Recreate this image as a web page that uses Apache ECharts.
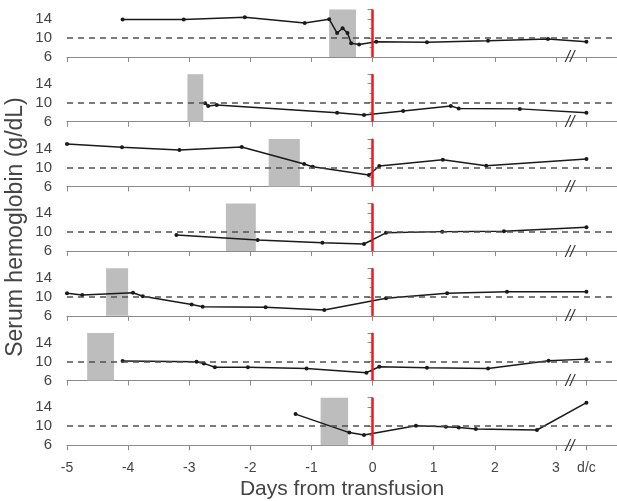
<!DOCTYPE html>
<html>
<head>
<meta charset="utf-8">
<script src="https://cdn.jsdelivr.net/npm/echarts@6/dist/echarts.min.js"></script>
<style>
  html, body { margin: 0; padding: 0; background: #fff; }
  #chart { width: 617px; height: 501px; }
</style>
</head>
<body>
<div id="chart"></div>
<script>
// days from transfusion, d/c drawn at 3.5
const xTicks = [-5, -4, -3, -2, -1, 0, 1, 2, 3, 3.5]
const xTickLabels = ['-5', '-4', '-3', '-2', '-1', '0', '1', '2', '3', 'd/c']
const yTicks = [6, 10, 14]
const refLevel = 10
const transfusionDay = 0
const breakAt = 3.23

// one array per patient: [day, hemoglobin g/dL]
const patient1 = [[-4.09, 13.9], [-3.09, 13.9], [-2.09, 14.35], [-1.11, 13.15], [-0.71, 13.95], [-0.58, 11.05], [-0.49, 12.05], [-0.41, 11.05], [-0.35, 8.9], [-0.22, 8.65], [0.06, 9.2], [0.89, 9.1], [1.89, 9.4], [2.87, 9.8], [3.5, 9.2]]
const patient2 = [[-2.74, 9.9], [-2.69, 9.3], [-2.55, 9.5], [-0.58, 7.9], [-0.14, 7.4], [0.5, 8.25], [1.28, 9.3], [1.41, 8.8], [2.41, 8.7], [3.5, 7.9]]
const patient3 = [[-5, 14.95], [-4.1, 14.25], [-3.16, 13.65], [-2.14, 14.3], [-1.12, 10.7], [-0.98, 10.15], [-0.06, 8.4], [0.11, 10.3], [1.15, 11.6], [1.86, 10.35], [3.5, 11.75]]
const patient4 = [[-3.21, 9.4], [-1.88, 8.35], [-0.82, 7.75], [-0.14, 7.5], [0.22, 9.85], [1.14, 10.1], [2.15, 10.2], [3.5, 11.0]]
const patient5 = [[-5, 10.75], [-4.75, 10.4], [-3.92, 10.85], [-3.76, 10.1], [-2.96, 8.4], [-2.78, 7.9], [-1.75, 7.8], [-0.79, 7.2], [0.22, 9.7], [1.22, 10.75], [2.2, 11.05], [3.5, 11.05]]
const patient6 = [[-4.09, 10.1], [-2.88, 9.95], [-2.76, 9.6], [-2.58, 8.8], [-2.04, 8.8], [-1.08, 8.55], [-0.1, 7.65], [0.11, 8.9], [0.89, 8.7], [1.89, 8.55], [2.88, 10.15], [3.5, 10.5]]
const patient7 = [[-1.26, 12.55], [-0.38, 8.65], [-0.14, 8.15], [0.71, 10.1], [1.2, 9.9], [1.41, 9.75], [1.69, 9.4], [2.69, 9.2], [3.5, 14.95]]

// grey bars (start, end day)
const shadeRanges = [[-0.71, -0.27], [-3.03, -2.77], [-1.7, -1.19], [-2.4, -1.91], [-4.36, -4.0], [-4.67, -4.23], [-0.85, -0.4]]

const patients = [patient1, patient2, patient3, patient4, patient5, patient6, patient7]

const chart = echarts.init(document.getElementById('chart'))
const font = 'Liberation Sans, Arial, sans-serif'
const axisGrey = '#8a8a8a'

const grids = []
const xAxes = []
const yAxes = []
const series = []

function panelRect(i) {
  return {
    left: 67,
    width: 550,
    top: 9.5 + 64.7 * i,
    height: 47.5,
    containLabel: false,
    outerBoundsMode: 'none'
  }
}

patients.forEach(function(data, i) {
  grids.push(panelRect(i))
  xAxes.push({
    type: 'value',
    gridIndex: i,
    min: -5,
    max: 4,
    interval: 1,
    axisLine: { lineStyle: { color: axisGrey, width: 1 } },
    axisTick: { show: true, customValues: xTicks, length: 5, lineStyle: { color: axisGrey } },
    axisLabel: { show: false },
    splitLine: { show: false }
  })
  yAxes.push({
    type: 'value',
    gridIndex: i,
    min: 6,
    max: 16,
    interval: 4,
    axisLine: { show: true, lineStyle: { color: axisGrey } },
    axisTick: { show: true, length: 5, lineStyle: { color: axisGrey } },
    minorTick: { show: true, splitNumber: 2, length: 3, lineStyle: { color: axisGrey } },
    axisLabel: {
      margin: 15,
      fontSize: 15,
      color: '#444',
      fontFamily: font,
      formatter: function(v) {
        return yTicks.indexOf(v) >= 0 ? String(v) : ''
      }
    },
    splitLine: { show: false }
  })

  // grey transfusion bar
  series.push({
    type: 'line',
    xAxisIndex: i,
    yAxisIndex: i,
    data: [],
    z: 1,
    silent: true,
    markArea: {
      silent: true,
      itemStyle: { color: '#bdbdbd', opacity: 1 },
      data: [[{ xAxis: shadeRanges[i][0] }, { xAxis: shadeRanges[i][1] }]]
    }
  })
  // dashed reference at 10 g/dL
  series.push({
    type: 'line',
    xAxisIndex: i,
    yAxisIndex: i,
    data: [],
    z: 2,
    silent: true,
    markLine: {
      silent: true,
      symbol: 'none',
      label: { show: false },
      lineStyle: { color: '#505050', type: [6, 5], width: 1.6 },
      data: [{ yAxis: refLevel }]
    }
  })
  series.push({
    type: 'line',
    xAxisIndex: i,
    yAxisIndex: i,
    data: data,
    z: 3,
    symbol: 'circle',
    symbolSize: 4,
    itemStyle: { color: '#1a1a1a' },
    lineStyle: { color: '#1a1a1a', width: 1.5 }
  })
  // red transfusion line + axis break
  series.push({
    type: 'line',
    xAxisIndex: i,
    yAxisIndex: i,
    data: [],
    z: 4,
    silent: true,
    markLine: {
      silent: true,
      symbol: 'none',
      label: { show: false },
      lineStyle: { color: '#f01818', type: 'solid', width: 2.5 },
      data: [{ xAxis: transfusionDay }]
    },
    markPoint: {
      silent: true,
      symbol: 'circle',
      symbolSize: 1,
      itemStyle: { color: 'rgba(0,0,0,0)' },
      label: {
        show: true,
        position: 'inside',
        formatter: '//',
        fontSize: 16,
        fontStyle: 'italic',
        color: '#333',
        fontFamily: font,
        offset: [0, 1]
      },
      data: [{ coord: [breakAt, 6] }]
    }
  })
})

// shared day axis under the bottom panel (own grid so its labels stay apart from the y labels)
const bottom = patients.length
grids.push(panelRect(bottom - 1))
xAxes.push({
  type: 'value',
  gridIndex: bottom,
  min: -5,
  max: 4,
  interval: 1,
  axisLine: { show: false },
  axisTick: { show: false },
  axisLabel: {
    customValues: xTicks,
    margin: 16,
    fontSize: 14,
    color: '#444',
    fontFamily: font,
    formatter: function(v) {
      const k = xTicks.indexOf(v)
      return k >= 0 ? xTickLabels[k] : ''
    }
  },
  splitLine: { show: false },
  name: 'Days from transfusion',
  nameLocation: 'middle',
  nameGap: 34,
  nameTextStyle: { fontSize: 21, color: '#444', fontFamily: font }
})
yAxes.push({
  type: 'value',
  gridIndex: bottom,
  min: 6,
  max: 16,
  show: false
})

chart.setOption({
  backgroundColor: '#fff',
  animation: false,
  grid: grids,
  xAxis: xAxes,
  yAxis: yAxes,
  series: series,
  graphic: [{
    type: 'text',
    rotation: Math.PI / 2,
    x: 16,
    y: 227,
    style: {
      text: 'Serum hemoglobin (g/dL)',
      fontSize: 23,
      fill: '#444',
      fontFamily: font,
      textAlign: 'center',
      textVerticalAlign: 'middle'
    }
  }]
})
</script>
</body>
</html>
